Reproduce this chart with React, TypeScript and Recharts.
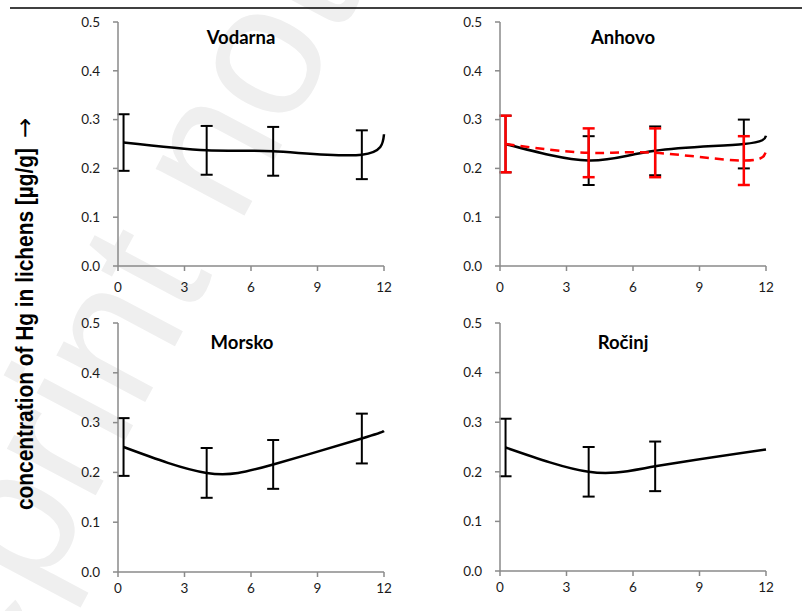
import React from 'react';
import { LineChart, Line, XAxis, YAxis, ErrorBar } from 'recharts';

// sampling months (first sampling just after month 0)
const months = [0.25, 4, 7, 11, 12];
const rocinjMonths = [0.25, 4, 7, 12];
const monthTicks = [0, 3, 6, 9, 12];
const hgTicks = [0, 0.1, 0.2, 0.3, 0.4, 0.5];

// Hg in lichens [µg/g], mean and SD per sampling
const vodarnaMean = [0.253, 0.237, 0.235, 0.228, 0.27];
const vodarnaSd = [0.058, 0.05, 0.05, 0.05, null];

const anhovoMean = [0.25, 0.216, 0.236, 0.25, 0.267];
const anhovoSd = [0.058, 0.05, 0.05, 0.05, null];
const anhovoRedMean = [0.25, 0.232, 0.232, 0.216, 0.238];
const anhovoRedSd = [0.058, 0.05, 0.05, 0.05, null];

const morskoMean = [0.251, 0.199, 0.216, 0.268, 0.283];
const morskoSd = [0.058, 0.05, 0.049, 0.05, null];

const rocinjMean = [0.249, 0.2, 0.211, 0.245];
const rocinjSd = [0.058, 0.05, 0.05, null];

const rows = (xs: number[], mean: number[], sd: (number | null)[], mean2?: number[], sd2?: (number | null)[]) =>
  xs.map((x, i) => ({ x, m: mean[i], sd: sd[i], m2: mean2 ? mean2[i] : undefined, sd2: sd2 ? sd2[i] : undefined }));

const axisGray = '#8a8a8a';
const tickFont = { fill: '#1a1a1a', fontSize: 13.5, fontFamily: 'Lato' };

interface PanelProps {
  left: number; top: number; plotH: number; xGap: number;
  data: any[]; red?: boolean;
}

function Panel({ left, top, plotH, xGap, data, red }: PanelProps) {
  return (
    <div style={{ position: 'absolute', left: left - 60, top: top - 20 }}>
      <LineChart width={346} height={plotH + 55} data={data} margin={{ top: 20, right: 20, left: 0, bottom: 5 }}>
        <XAxis type="number" dataKey="x" domain={[0, 12]} ticks={monthTicks} height={30}
          stroke={axisGray} strokeWidth={1.5} tickSize={5} tickMargin={xGap} tick={tickFont} />
        <YAxis type="number" domain={[0, 0.5]} ticks={hgTicks} width={60} tickFormatter={(v: number) => v.toFixed(1)}
          stroke={axisGray} strokeWidth={1.5} tickSize={5} tickMargin={13} tick={tickFont} />
        <Line type="natural" dataKey="m" stroke="#000" strokeWidth={2.5} dot={false} activeDot={false} isAnimationActive={false}>
          <ErrorBar dataKey="sd" width={6} stroke="#000" strokeWidth={2} isAnimationActive={false} />
        </Line>
        {red && (
          <Line type="natural" dataKey="m2" stroke="#ff0000" strokeWidth={2.5} strokeDasharray="9 6" dot={false} activeDot={false} isAnimationActive={false}>
            <ErrorBar dataKey="sd2" width={6} stroke="#ff0000" strokeWidth={2.5} isAnimationActive={false} />
          </Line>
        )}
      </LineChart>
    </div>
  );
}

const titleStyle = { fontFamily: 'Lato', fontWeight: 700, fontSize: 18.5, fill: '#000' };

export default function App() {
  return (
    <div style={{ position: 'absolute', left: 0, top: 0, width: 802, height: 611, background: '#fff', overflow: 'hidden' }}>
      <svg width={802} height={611} style={{ position: 'absolute', left: 0, top: 0 }}>
        <text x={40} y={600} transform="rotate(-62 40 600)" fontSize={190} fill="#efefef"
          fontFamily="Liberation Sans" textAnchor="start">
          <tspan dx={-296}>Preprint not peer reviewed</tspan>
        </text>
      </svg>
      <Panel left={118} top={22} plotH={244} xGap={11} data={rows(months, vodarnaMean, vodarnaSd)} />
      <Panel left={500} top={22} plotH={244} xGap={11} data={rows(months, anhovoMean, anhovoSd, anhovoRedMean, anhovoRedSd)} red />
      <Panel left={118} top={323} plotH={249} xGap={6} data={rows(months, morskoMean, morskoSd)} />
      <Panel left={500} top={323} plotH={248} xGap={6} data={rows(rocinjMonths, rocinjMean, rocinjSd)} />
      <svg width={802} height={611} style={{ position: 'absolute', left: 0, top: 0, pointerEvents: 'none' }}>
        <line x1={10} y1={8} x2={802} y2={8} stroke="#000" strokeWidth={1.3} />
        <text x={241} y={44} textAnchor="middle" style={titleStyle}>Vodarna</text>
        <text x={623} y={44} textAnchor="middle" style={titleStyle}>Anhovo</text>
        <text x={242} y={348.5} textAnchor="middle" style={titleStyle}>Morsko</text>
        <text x={623} y={348.5} textAnchor="middle" style={titleStyle}>Ročinj</text>
        <text x={33} y={510} transform="rotate(-90 33 510)" fontFamily="Liberation Sans" fontWeight={700}
          fontSize={23} textLength={362} lengthAdjust="spacingAndGlyphs" fill="#000">
          concentration of Hg in lichens [µg/g]
        </text>
        <text x={33} y={138} transform="rotate(-90 33 138)" fontFamily="DejaVu Sans" fontSize={24} fill="#000">→</text>
      </svg>
    </div>
  );
}
